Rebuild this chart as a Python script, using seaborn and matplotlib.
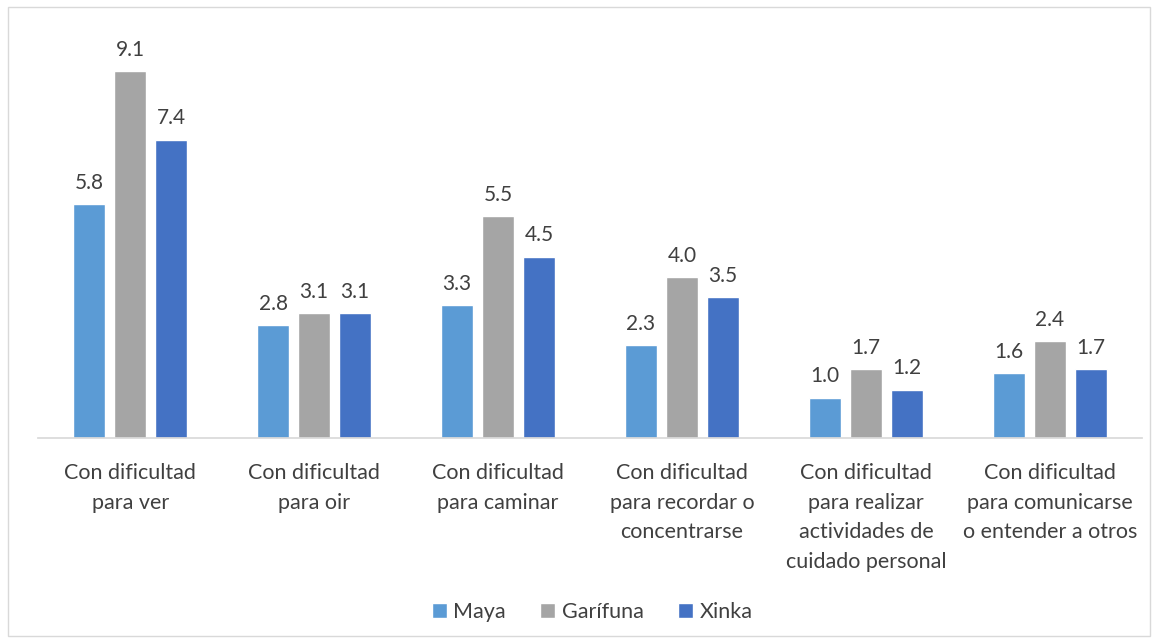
import pandas as pd
import matplotlib.pyplot as plt
import seaborn as sns
from matplotlib.patches import Rectangle

categories = [
    "Con dificultad\npara ver",
    "Con dificultad\npara oir",
    "Con dificultad\npara caminar",
    "Con dificultad\npara recordar o\nconcentrarse",
    "Con dificultad\npara realizar\nactividades de\ncuidado personal",
    "Con dificultad\npara comunicarse\no entender a otros",
]
groups = ["Maya", "Garífuna", "Xinka"]
maya = [5.8, 2.8, 3.3, 2.3, 1.0, 1.6]
garifuna = [9.1, 3.1, 5.5, 4.0, 1.7, 2.4]
xinka = [7.4, 3.1, 4.5, 3.5, 1.2, 1.7]
colors = ["#5B9BD5", "#A5A5A5", "#4472C4"]

df = pd.DataFrame({
    "categoria": categories * 3,
    "grupo": [g for g in groups for _ in categories],
    "valor": maya + garifuna + xinka,
})

sns.set_theme(style="white")
plt.rcParams["font.family"] = ["Lato", "DejaVu Sans"]
text_color = "#404040"

fig = plt.figure(figsize=(11.57, 6.44), dpi=100)
ax = fig.add_axes([0.033, 0.32, 0.954, 0.626])

sns.barplot(data=df, x="categoria", y="valor", hue="grupo", palette=colors,
            width=0.67, gap=0.22, ax=ax, saturation=1)

for c in ax.containers:
    ax.bar_label(c, fmt="%.1f", padding=8, fontsize=15, color=text_color)

ax.set_ylim(0, 10)
ax.set_xlim(-0.5, 5.5)
ax.set_yticks([])
ax.set_xlabel("")
ax.set_ylabel("")
for s in ["top", "right", "left"]:
    ax.spines[s].set_visible(False)
ax.spines["bottom"].set_color("#D9D9D9")
ax.tick_params(axis="x", length=0, pad=18, labelsize=15.5, labelcolor=text_color)
for lbl in ax.get_xticklabels():
    lbl.set_linespacing(1.6)

ax.legend(loc="upper center", bbox_to_anchor=(0.502, -0.36), ncol=3, frameon=False,
          fontsize=15.5, labelcolor=text_color, handlelength=0.7, handleheight=0.7,
          handletextpad=0.3, columnspacing=1.6)

fig.patches.append(Rectangle((0.007, 0.012), 0.987, 0.977, transform=fig.transFigure,
                             fill=False, edgecolor="#D9D9D9", linewidth=1))

fig.savefig("out.png", dpi=100)
